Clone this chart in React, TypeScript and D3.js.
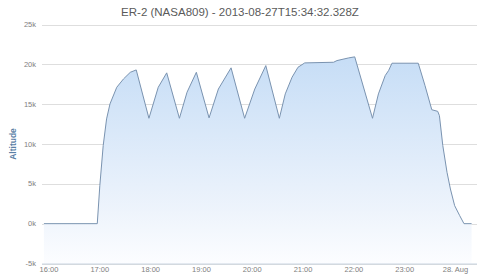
import React from "react";
import * as d3 from "d3";

const title = "ER-2 (NASA809) - 2013-08-27T15:34:32.328Z";
const yAxisTitle = "Altitude";

// flight track: time (UTC) and altitude (ft)
const times = [
  "2013-08-27T15:54", "2013-08-27T16:57", "2013-08-27T17:00", "2013-08-27T17:04",
  "2013-08-27T17:08", "2013-08-27T17:12", "2013-08-27T17:20", "2013-08-27T17:28",
  "2013-08-27T17:36", "2013-08-27T17:43", "2013-08-27T17:58", "2013-08-27T18:09",
  "2013-08-27T18:19", "2013-08-27T18:34", "2013-08-27T18:43", "2013-08-27T18:54",
  "2013-08-27T19:09", "2013-08-27T19:20", "2013-08-27T19:35", "2013-08-27T19:51",
  "2013-08-27T20:03", "2013-08-27T20:16", "2013-08-27T20:32", "2013-08-27T20:39",
  "2013-08-27T20:47", "2013-08-27T20:54", "2013-08-27T21:02", "2013-08-27T21:36",
  "2013-08-27T21:40", "2013-08-27T21:54", "2013-08-27T22:01", "2013-08-27T22:22",
  "2013-08-27T22:29", "2013-08-27T22:37", "2013-08-27T22:41", "2013-08-27T22:45",
  "2013-08-27T23:16", "2013-08-27T23:24", "2013-08-27T23:32", "2013-08-27T23:39",
  "2013-08-27T23:41", "2013-08-27T23:45", "2013-08-27T23:50", "2013-08-27T23:54",
  "2013-08-27T23:59", "2013-08-28T00:05", "2013-08-28T00:10", "2013-08-28T00:19",
];
const altitudes = [
  0, 0, 4770, 9800,
  13150, 15030, 17120, 18170,
  19000, 19300, 13230, 17120,
  18930, 13230, 16500, 19000,
  13280, 16900, 19560, 13230,
  16900, 19840, 13230, 16290,
  18380, 19630, 20180, 20260,
  20470, 20810, 20940, 13230,
  16290, 18590, 19220, 20140,
  20140, 17330, 14300, 14100,
  13560, 9800, 6440, 4350,
  2260, 1000, 0, 0,
];

const yTicks = [-5000, 0, 5000, 10000, 15000, 20000, 25000];
const xTickTimes = [
  "2013-08-27T16:00", "2013-08-27T17:00", "2013-08-27T18:00", "2013-08-27T19:00",
  "2013-08-27T20:00", "2013-08-27T21:00", "2013-08-27T22:00", "2013-08-27T23:00",
  "2013-08-28T00:00",
];
const xTickLabels = ["16:00", "17:00", "18:00", "19:00", "20:00", "21:00", "22:00", "23:00", "28. Aug"];

const W = 480;
const H = 276;
const plotLeft = 44;
const plotRight = 477;
const plotTop = 24.5;
const plotBottom = 263.5;

const parse = d3.utcParse("%Y-%m-%dT%H:%M");

export default function App() {
  const data = times.map((t, i) => ({ t: parse(t) as Date, v: altitudes[i] }));
  const x = d3
    .scaleUtc()
    .domain([parse("2013-08-27T16:00") as Date, parse("2013-08-28T00:00") as Date])
    .range([49, 455.5]);
  const y = d3.scaleLinear().domain([-5000, 25000]).range([plotBottom, plotTop]);

  const area = d3
    .area<{ t: Date; v: number }>()
    .x((d) => x(d.t))
    .y0(plotBottom)
    .y1((d) => y(d.v));
  const line = d3
    .line<{ t: Date; v: number }>()
    .x((d) => x(d.t))
    .y((d) => y(d.v));

  const font = "'Liberation Sans', Arial, sans-serif";

  return (
    <svg
      width={W}
      height={H}
      style={{ position: "absolute", left: 0, top: 0, background: "#fff" }}
      fontFamily={font}
    >
      <defs>
        <linearGradient id="fillGrad" gradientUnits="userSpaceOnUse" x1="0" y1={y(21000)} x2="0" y2={plotBottom}>
          <stop offset="0" stopColor="#c6ddf6" />
          <stop offset="0.75" stopColor="#eef4fc" />
          <stop offset="1" stopColor="#fcfdff" />
        </linearGradient>
      </defs>
      <text x={240} y={16} textAnchor="middle" fontSize={11.5} fill="#5a5a5a">
        {title}
      </text>
      {yTicks.map((t) => (
        <g key={t}>
          <line
            x1={plotLeft - 2}
            x2={plotRight}
            y1={Math.round(y(t)) + 0.5}
            y2={Math.round(y(t)) + 0.5}
            stroke="#dedede"
            strokeWidth={1}
          />
          <text x={36} y={y(t) + 2.5} textAnchor="end" fontSize={7.5} fill="#808080">
            {t / 1000 + "k"}
          </text>
        </g>
      ))}
      <path d={area(data) || ""} fill="url(#fillGrad)" />
      <path d={line(data) || ""} fill="none" stroke="#7a93b0" strokeWidth={1} />
      <line x1={plotLeft - 2} x2={plotRight} y1={264} y2={264} stroke="#c8d4e0" strokeWidth={1} />
      {xTickTimes.map((t, i) => (
        <text key={t} x={x(parse(t) as Date)} y={271.5} textAnchor="middle" fontSize={7.5} fill="#808080">
          {xTickLabels[i]}
        </text>
      ))}
      <text
        transform={`translate(16,${(plotTop + plotBottom) / 2}) rotate(-90)`}
        textAnchor="middle"
        fontSize={8.5}
        fontWeight="bold"
        fill="#5a7fa6"
      >
        {yAxisTitle}
      </text>
    </svg>
  );
}
